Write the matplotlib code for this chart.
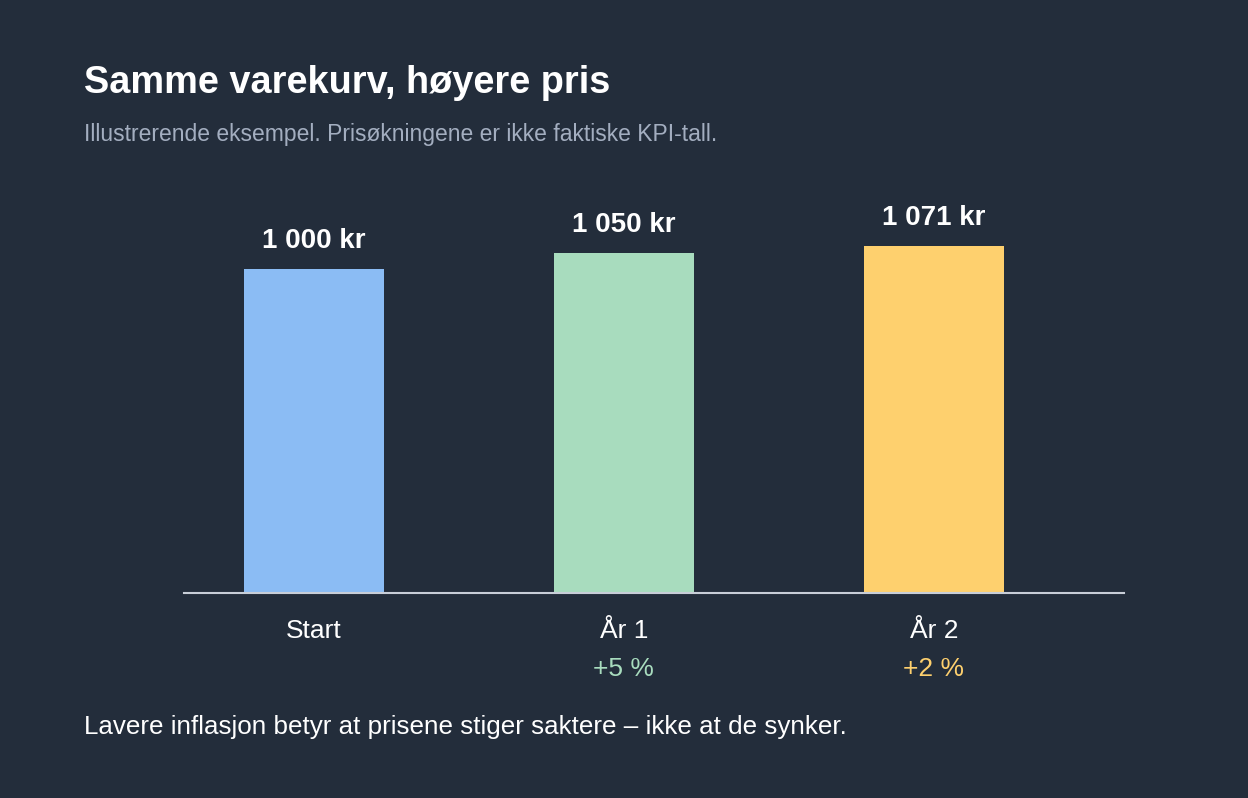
import matplotlib
matplotlib.use("Agg")
import matplotlib.pyplot as plt

# data
categories = ["Start", "År 1", "År 2"]
prices = [1000, 1050, 1071]
value_labels = ["1 000 kr", "1 050 kr", "1 071 kr"]
changes = ["", "+5 %", "+2 %"]

bg = "#232d3b"
bar_colors = ["#8bbcf4", "#a8dcbe", "#fed06e"]
change_colors = ["#ffffff", "#a8dcbe", "#fed06e"]

plt.rcParams["font.family"] = ["Liberation Sans", "DejaVu Sans"]

W, H = 1248, 798
fig = plt.figure(figsize=(W / 100, H / 100), dpi=100, facecolor=bg)

# axes placed in pixel terms: baseline at y=593, x from 184 to 1124
left, right = 184, 1124
bottom, top = 593, 200
ax = fig.add_axes([left / W, 1 - bottom / H, (right - left) / W, (bottom - top) / H])
ax.set_facecolor(bg)

x = list(range(len(categories)))
ax.bar(x, prices, width=0.4516, color=bar_colors, zorder=2)
ax.set_xlim(-0.419, 2.613)
ax.set_ylim(0, (bottom - top) / 0.324)

for xi, p, lab in zip(x, prices, value_labels):
    ax.annotate(lab, (xi, p), xytext=(0, 10.5), textcoords="offset points",
                ha="center", va="bottom", color="white", fontsize=20, fontweight="bold")

for s in ["top", "right", "left"]:
    ax.spines[s].set_visible(False)
ax.spines["bottom"].set_color("#c8ced8")
ax.spines["bottom"].set_linewidth(1.5)
ax.spines["bottom"].set_zorder(3)
ax.set_yticks([])
ax.set_xticks(x)
ax.set_xticklabels(categories, color="white", fontsize=19)
ax.tick_params(axis="x", length=0, pad=19)

# change labels under the tick labels
for xi, ch, c in zip(x, changes, change_colors):
    if ch:
        ax.annotate(ch, (xi, 0), xytext=(0, -55), textcoords="offset points",
                    ha="center", va="center", color=c, fontsize=19)

fig.text(84 / W, 1 - 83 / H, "Samme varekurv, høyere pris", color="white",
         fontsize=27.3, fontweight="bold", va="center", ha="left")
fig.text(84 / W, 1 - 134 / H, "Illustrerende eksempel. Prisøkningene er ikke faktiske KPI-tall.",
         color="#a3aec0", fontsize=16.5, va="center", ha="left")
fig.text(84 / W, 1 - 727 / H, "Lavere inflasjon betyr at prisene stiger saktere – ikke at de synker.",
         color="white", fontsize=18.7, va="center", ha="left")

fig.savefig("out.png", dpi=100, facecolor=bg)
